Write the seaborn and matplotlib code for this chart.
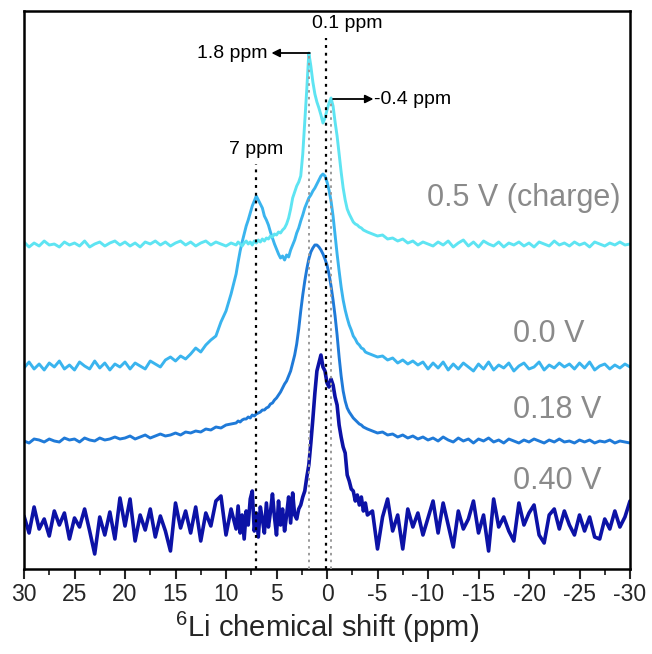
import numpy as np
import pandas as pd
import matplotlib
matplotlib.use("Agg")
import matplotlib.pyplot as plt
from matplotlib.ticker import MultipleLocator
import seaborn as sns

# chemical shift grid (ppm): coarse in the wings, finer around the peaks
shift = np.round(np.concatenate([
    np.linspace(30.0, 9.5, 42),
    np.linspace(9.0, -4.0, 66),
    np.linspace(-4.5, -30.0, 52),
]), 1)

# signal above each trace's own baseline
sig_040 = [
    5, -12, 14, -8, 2, -15, 10, -4, 8, -18,
    3, -6, 12, -10, -33, 4, -14, 9, -18, 23,
    -5, 22, -20, 6, -9, 12, -16, 5, -10, -30,
    18, -7, 10, -12, 14, -20, 8, -5, 20, 25,
    -14, 12,
    -8, 15, -12, 6, -18, 10, -4, 22, 30, -10,
    8, -16, 14, 2, -12, 18, -6, 9, 27, 4,
    -14, 20, -4, 12, -10, 6, 24, -2, 28, 6,
    2, 12, 16, 24, 30, 44, 56, 78, 102, 128,
    150, 158, 166, 154, 150, 138, 134, 142, 136, 124,
    116, 96, 84, 74, 68, 46, 40, 32, 30, 20,
    26, 16, 24, 10, 18, 6,
    10, -28, 4, 22, -10, 6, -28, 12, -6, 8,
    -14, 3, 20, -12, 18, -4, -26, 10, -8, 2,
    20, -12, 6, -30, 22, -6, 4, -10, -20, 18,
    -4, 8, 16, -14, -22, 6, 12, -8, 10, -4,
    -14, 6, -10, 4, -16, -18, 2, -8, 10, -6,
    4, 20,
]
sig_018 = [
    0, -2, 2, 1, -1, 2, 0, -1, 3, 1,
    2, -1, 3, 1, 0, 3, 1, 2, 4, 2,
    3, 5, 2, 4, 6, 3, 5, 7, 5, 6,
    8, 6, 9, 8, 10, 9, 12, 11, 14, 13,
    16, 17,
    18, 20, 19, 21, 22, 22, 24, 23, 26, 25,
    27, 28, 29, 31, 31, 33, 34, 37, 38, 41,
    43, 46, 49, 53, 57, 60, 65, 70, 78, 86,
    97, 112, 130, 146, 160, 172, 182, 189, 193, 196,
    196, 194, 191, 187, 182, 176, 167, 155, 141, 125,
    106, 84, 65, 50, 40, 33, 29, 26, 23, 21,
    19, 17, 16, 14, 13, 12,
    10, 8, 9, 6, 7, 4, 6, 3, 5, 2,
    4, 1, 3, 0, 4, 1, -1, 3, 0, 2,
    -2, 2, 0, 3, -1, 1, -2, 2, 0, -2,
    1, -1, 2, 0, -2, 1, -1, 2, -1, 0,
    -2, 1, -1, 1, -2, 0, -1, 1, -2, 0,
    -1, -2,
]
sig_000 = [
    -2, 4, -3, 2, -4, 3, -1, 5, -3, 1,
    -4, 4, 0, -3, 5, -2, 3, -4, 2, -1,
    4, -3, 3, 0, -3, 5, 2, -1, 6, 9,
    5, 10, 7, 12, 18, 14, 21, 26, 30, 44,
    55, 72,
    92, 104, 115, 124, 132, 140, 146, 153, 160, 165,
    170, 166, 162, 158, 150, 146, 141, 134, 128, 122,
    117, 112, 108, 110, 106, 111, 109, 116, 121, 126,
    133, 138, 145, 151, 158, 163, 168, 171, 175, 178,
    182, 186, 190, 192, 190, 184, 176, 165, 150, 131,
    112, 95, 79, 66, 56, 48, 41, 36, 30, 27,
    23, 21, 18, 17, 14, 13,
    11, 9, 10, 6, 8, 3, 6, 2, 5, 1,
    4, -3, 3, -2, 4, -4, 2, -3, 3, -1,
    -5, 2, -3, 4, -4, 1, -2, 3, -5, 0,
    3, -3, -1, 4, -4, 1, -2, 3, -1, 2,
    -3, 3, -2, 4, -4, 0, 2, -3, 1, -2,
    2, -1,
]
sig_charge = [
    2, -3, 1, -2, 3, -1, 0, -3, 2, -1,
    1, -2, 3, -3, 0, 2, -2, 1, 3, -1,
    2, -2, 1, -3, 2, 0, 3, -1, 2, -2,
    1, 3, -1, 2, -2, 1, 3, -1, 2, 0,
    -2, 1,
    -1, 2, 0, -2, 1, 3, 0, 2, -1, 3,
    1, 4, 2, 5, 3, 6, 5, 8, 7, 10,
    9, 12, 11, 14, 16, 20, 26, 35, 46, 52,
    58, 62, 68, 90, 122, 155, 191, 178, 162, 150,
    142, 136, 129, 121, 126, 134, 141, 146, 138, 122,
    108, 90, 72, 56, 44, 35, 30, 26, 22, 20,
    19, 17, 16, 14, 13, 12,
    10, 8, 9, 5, 6, 3, 5, 1, 3, -1,
    2, 0, -2, 2, -1, 3, -3, 1, 4, -2,
    2, -3, 3, 0, -2, 2, -3, 1, -1, 2,
    -2, 1, -3, 2, 0, -2, 3, -1, 1, -2,
    2, -1, 1, -3, 2, 0, -2, 1, -1, 2,
    -1, 0,
]

labels = ["0.40 V", "0.18 V", "0.0 V", "0.5 V (charge)"]
signals = [sig_040, sig_018, sig_000, sig_charge]
offsets = [48, 128, 203, 325]
colors = ["#0c12a6", "#1f7ad8", "#3ab4ee", "#5ee4f2"]
widths = [2.6, 2.1, 2.1, 2.1]

frames = []
for lab, sig, off in zip(labels, signals, offsets):
    frames.append(pd.DataFrame({"shift": shift, "signal": np.array(sig) + off, "trace": lab}))
df = pd.concat(frames, ignore_index=True)

sns.set_theme(style="white")
plt.rcParams["font.family"] = ["Liberation Sans", "DejaVu Sans"]
plt.rcParams["mathtext.default"] = "regular"
plt.rcParams["axes.unicode_minus"] = False

fig = plt.figure(figsize=(6.52, 6.54), dpi=100)
ax = fig.add_axes([24 / 652, 85 / 654, 606 / 652, 558 / 654])

for lab, col, lw in zip(labels, colors, widths):
    sns.lineplot(data=df[df["trace"] == lab], x="shift", y="signal", color=col,
                 linewidth=lw, sort=False, estimator=None, ax=ax)

# reference lines at the peak positions
ax.plot([7, 7], [0, 405], color="black", ls=(0, (1.3, 2.2)), lw=1.6, zorder=5)
ax.plot([0.1, 0.1], [0, 531], color="black", ls=(0, (1.3, 2.2)), lw=1.6, zorder=5)
ax.plot([1.75, 1.75], [0, 514], color="#9a9a9a", ls=(0, (1.3, 2.2)), lw=1.4, zorder=5)
ax.plot([-0.4, -0.4], [0, 468], color="#9a9a9a", ls=(0, (1.3, 2.2)), lw=1.4, zorder=5)

ann = dict(fontsize=14, color="black", va="center")
ax.text(7, 420, "7 ppm", ha="center", **ann)
ax.text(1.5, 546, "0.1 ppm", ha="left", **ann)
ax.text(5.9, 516, "1.8 ppm", ha="right", **ann)
ax.text(-4.7, 470, "-0.4 ppm", ha="left", **ann)
arrow = dict(arrowstyle="-|>", color="black", lw=1.3, mutation_scale=12, shrinkA=0, shrinkB=0)
ax.annotate("", xy=(5.5, 516), xytext=(1.7, 516), arrowprops=arrow)
ax.annotate("", xy=(-4.6, 470), xytext=(-0.6, 470), arrowprops=arrow)

lab_style = dict(fontsize=22, color="#8a8a8a", ha="left", va="center")
ax.text(-9.9, 371, "0.5 V (charge)", **lab_style)
ax.text(-18.4, 235, "0.0 V", **lab_style)
ax.text(-18.4, 159, "0.18 V", **lab_style)
ax.text(-18.4, 88, "0.40 V", **lab_style)

ax.set_xlim(30, -30)
ax.set_ylim(0, 558)
ax.set_xticks(range(30, -31, -5))
ax.xaxis.set_minor_locator(MultipleLocator(2.5))
ax.set_yticks([])
ax.tick_params(axis="x", which="major", direction="out", length=7, width=1.5,
               labelsize=16.5, pad=3, bottom=True)
ax.tick_params(axis="x", which="minor", direction="out", length=4, width=1.3, bottom=True)
for sp in ax.spines.values():
    sp.set_visible(True)
    sp.set_color("black")
    sp.set_linewidth(1.8)
ax.set_xlabel("$^{6}$Li chemical shift (ppm)", fontsize=21, labelpad=3)
ax.set_ylabel("")

fig.savefig("out.png", dpi=100)
